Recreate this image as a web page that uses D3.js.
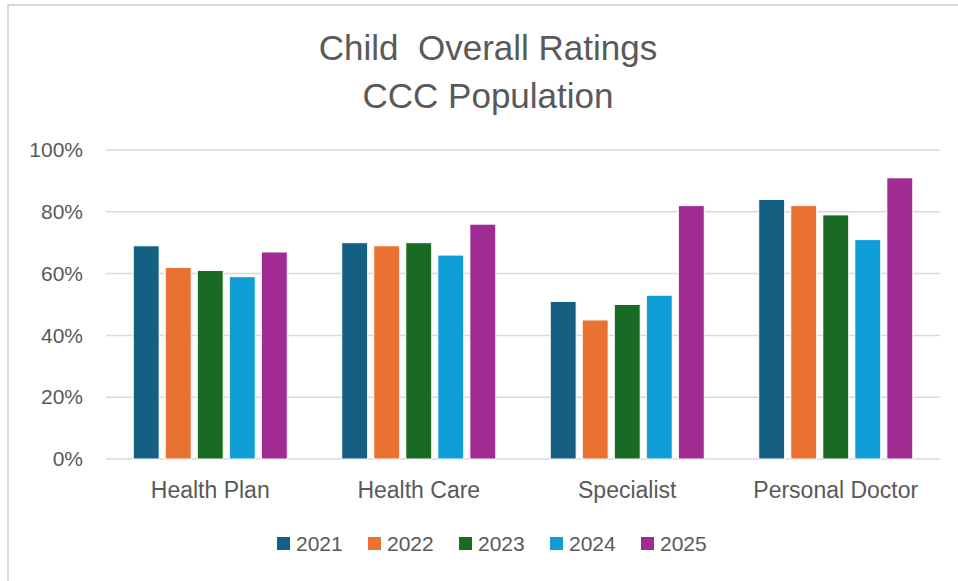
<!DOCTYPE html>
<html>
<head>
<meta charset="utf-8">
<script src="https://cdn.jsdelivr.net/npm/d3@7"></script>
<style>
  html, body { margin: 0; padding: 0; background: #fff; }
  svg { display: block; }
  text { font-family: "Liberation Sans", Arial, sans-serif; fill: #595959; }
</style>
</head>
<body>
<svg id="chart" width="958" height="581"></svg>
<script>
// Rating categories and the survey years shown for each
const categories = ["Health Plan", "Health Care", "Specialist", "Personal Doctor"];
const years = ["2021", "2022", "2023", "2024", "2025"];

// Share of top ratings per year, one value per category
const values2021 = [0.69, 0.70, 0.51, 0.84];
const values2022 = [0.62, 0.69, 0.45, 0.82];
const values2023 = [0.61, 0.70, 0.50, 0.79];
const values2024 = [0.59, 0.66, 0.53, 0.71];
const values2025 = [0.67, 0.76, 0.82, 0.91];

const yTicks = [0, 0.2, 0.4, 0.6, 0.8, 1.0];
const titleLines = ["Child  Overall Ratings", "CCC Population"];

const seriesValues = [values2021, values2022, values2023, values2024, values2025];
const colors = ["#156082", "#E97132", "#196B24", "#0F9ED5", "#A02B93"];

const svg = d3.select("#chart");

// Chart frame
svg.append("rect")
  .attr("x", 8).attr("y", 5)
  .attr("width", 960).attr("height", 590)
  .attr("fill", "#fff")
  .attr("stroke", "#d9d9d9")
  .attr("stroke-width", 2);

const plot = { left: 106, right: 940, top: 150, bottom: 459 };

const x0 = d3.scaleBand()
  .domain(categories)
  .range([plot.left, plot.right])
  .padding(0);

const x1 = d3.scaleBand()
  .domain(years)
  .range([0, x0.bandwidth()])
  .paddingInner(0.19)
  .paddingOuter(0.85);

const y = d3.scaleLinear()
  .domain([0, 1])
  .range([plot.bottom, plot.top]);

const color = d3.scaleOrdinal().domain(years).range(colors);

// Horizontal gridlines
svg.append("g")
  .selectAll("line")
  .data(yTicks)
  .join("line")
  .attr("x1", plot.left)
  .attr("x2", plot.right)
  .attr("y1", d => y(d))
  .attr("y2", d => y(d))
  .attr("stroke", "#d9d9d9")
  .attr("stroke-width", 1.5);

// Y axis labels
const yAxis = d3.axisLeft(y)
  .tickValues(yTicks)
  .tickFormat(d3.format(".0%"))
  .tickSize(0)
  .tickPadding(0);

svg.append("g")
  .attr("transform", `translate(${plot.left - 23},0)`)
  .call(yAxis)
  .call(g => g.select(".domain").remove())
  .call(g => g.selectAll("text")
    .attr("font-size", 21)
    .attr("fill", "#595959")
    .style("font-family", "Liberation Sans, Arial, sans-serif"));

// Bars
const rows = categories.map((c, i) => ({
  category: c,
  bars: years.map((yr, j) => ({ year: yr, value: seriesValues[j][i] }))
}));

svg.append("g")
  .selectAll("g")
  .data(rows)
  .join("g")
  .attr("transform", d => `translate(${x0(d.category)},0)`)
  .selectAll("rect")
  .data(d => d.bars)
  .join("rect")
  .attr("x", d => x1(d.year))
  .attr("width", x1.bandwidth())
  .attr("y", d => y(d.value))
  .attr("height", d => y(0) - y(d.value))
  .attr("fill", d => color(d.year))
  .attr("stroke", "#ffffff")
  .attr("stroke-width", 1);

// Category axis
const xAxis = d3.axisBottom(x0).tickSize(0).tickPadding(0);
svg.append("g")
  .attr("transform", `translate(0,${plot.bottom + 23})`)
  .call(xAxis)
  .call(g => g.select(".domain").remove())
  .call(g => g.selectAll("text")
    .attr("font-size", 23)
    .attr("fill", "#595959")
    .style("font-family", "Liberation Sans, Arial, sans-serif"));

// Title
svg.append("g")
  .selectAll("text")
  .data(titleLines)
  .join("text")
  .attr("x", 488)
  .attr("y", (d, i) => 60 + i * 48)
  .attr("text-anchor", "middle")
  .attr("font-size", 35)
  .style("white-space", "pre")
  .attr("xml:space", "preserve")
  .text(d => d);

// Legend
const legend = svg.append("g")
  .selectAll("g")
  .data(years)
  .join("g")
  .attr("transform", (d, i) => `translate(${277 + i * 91},537)`);

legend.append("rect")
  .attr("width", 13)
  .attr("height", 13)
  .attr("fill", d => color(d));

legend.append("text")
  .attr("x", 19)
  .attr("y", 14)
  .attr("font-size", 21)
  .text(d => d);
</script>
</body>
</html>
